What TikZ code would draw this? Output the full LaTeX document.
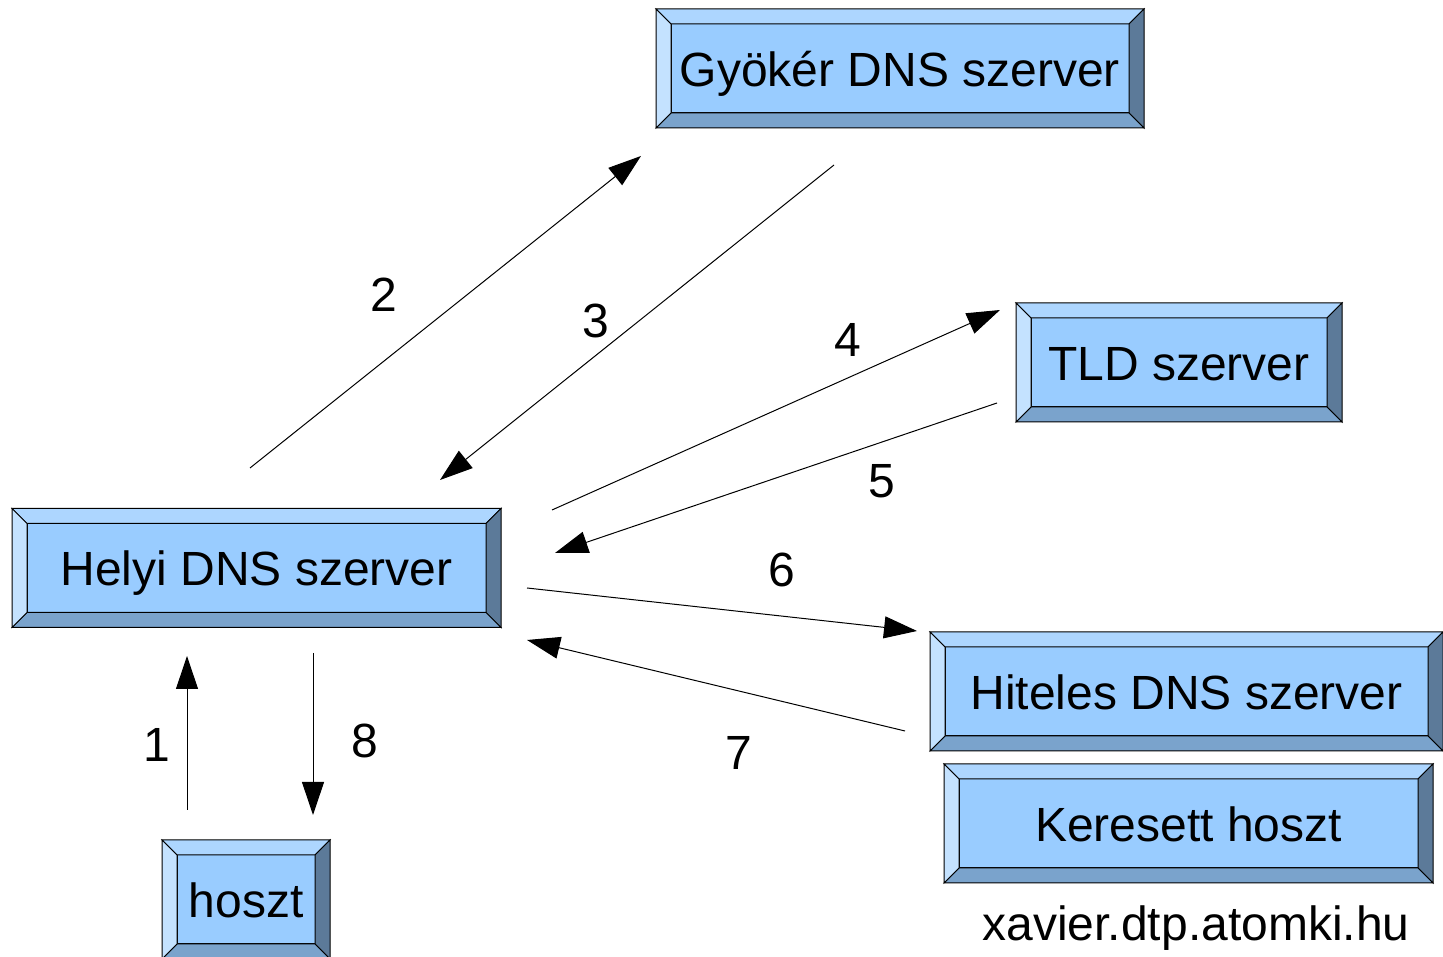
\documentclass[tikz,border=0pt]{standalone}
\usepackage{fontspec}
\setmainfont{Liberation Sans}
\usetikzlibrary{arrows.meta, calc}

\definecolor{srvface}{HTML}{99CCFF}
\definecolor{bevtop}{HTML}{ADD6FF}
\definecolor{bevleft}{HTML}{C4E2FF}
\definecolor{bevright}{HTML}{5C7A99}
\definecolor{bevbottom}{HTML}{7AA3CC}

% bevel frame round an inner node
\newcommand{\bevel}[1]{%
  \path (#1.north west) ++(-15,15) coordinate (#1-onw);
  \path (#1.north east) ++(15,15) coordinate (#1-one);
  \path (#1.south east) ++(15,-15) coordinate (#1-ose);
  \path (#1.south west) ++(-15,-15) coordinate (#1-osw);
  \filldraw[fill=bevtop] (#1-onw) -- (#1-one) -- (#1.north east) -- (#1.north west) -- cycle;
  \filldraw[fill=bevright] (#1-one) -- (#1-ose) -- (#1.south east) -- (#1.north east) -- cycle;
  \filldraw[fill=bevbottom] (#1-ose) -- (#1-osw) -- (#1.south west) -- (#1.south east) -- cycle;
  \filldraw[fill=bevleft] (#1-osw) -- (#1-onw) -- (#1.north west) -- (#1.south west) -- cycle;
}

\begin{document}
\begin{tikzpicture}[
  x=1pt, y=1pt,
  line width=1pt,
  srv/.style={draw, fill=srvface, inner sep=0pt, outer sep=0pt,
              minimum height=89pt, text height=36pt, text depth=0pt,
              font=\fontsize{48}{50}\selectfont},
  num/.style={font=\fontsize{48}{50}\selectfont},
  arr/.style={-{Triangle[length=33pt, width=22pt]}},
]
\useasboundingbox (0,0) rectangle (1443,957);

% servers
\node[srv, minimum width=458pt] (root) at (900,888.5) {Gyökér DNS szerver};
\bevel{root}
\node[srv, minimum width=296pt] (tld) at (1179,594.5) {TLD szerver};
\bevel{tld}
\node[srv, minimum width=459pt] (local) at (256.5,389) {Helyi DNS szerver};
\bevel{local}
\node[srv, minimum width=483pt] (auth) at (1186.5,265.5) {Hiteles DNS szerver};
\bevel{auth}
\node[srv, minimum width=459pt] (target) at (1188.5,133.5) {Keresett hoszt};
\bevel{target}
\node[srv, minimum width=138pt] (host) at (246,57.5) {hoszt};
\bevel{host}

% arrow ends
\coordinate (a1s) at (187,147);  \coordinate (a1e) at (187,301);
\coordinate (a2s) at (250,489);  \coordinate (a2e) at (641,801);
\coordinate (a3s) at (834,792);  \coordinate (a3e) at (440,477);
\coordinate (a4s) at (552,447);  \coordinate (a4e) at (1000,647);
\coordinate (a5s) at (997,554);  \coordinate (a5e) at (555,404);
\coordinate (a6s) at (527,369);  \coordinate (a6e) at (917,326);
\coordinate (a7s) at (905,226);  \coordinate (a7e) at (527,317);
\coordinate (a8s) at (313,304);  \coordinate (a8e) at (313,142);

\draw[arr] (a1s) -- (a1e);
\draw[arr] (a2s) -- (a2e);
\draw[arr] (a3s) -- (a3e);
\draw[arr] (a4s) -- (a4e);
\draw[arr] (a5s) -- (a5e);
\draw[arr] (a6s) -- (a6e);
\draw[arr] (a7s) -- (a7e);
\draw[arr] (a8s) -- (a8e);

% step numbers
\node[num] (l1) at (157,212) {1};
\node[num] (l2) at (384,662) {2};
\node[num] (l3) at (596,636) {3};
\node[num] (l4) at (848,617) {4};
\node[num] (l5) at (882,476) {5};
\node[num] (l6) at (782,387) {6};
\node[num] (l7) at (739,204) {7};
\node[num] (l8) at (365,216) {8};

\node[num] (url) at (1196,29) {xavier.dtp.atomki.hu};
\end{tikzpicture}
\end{document}
